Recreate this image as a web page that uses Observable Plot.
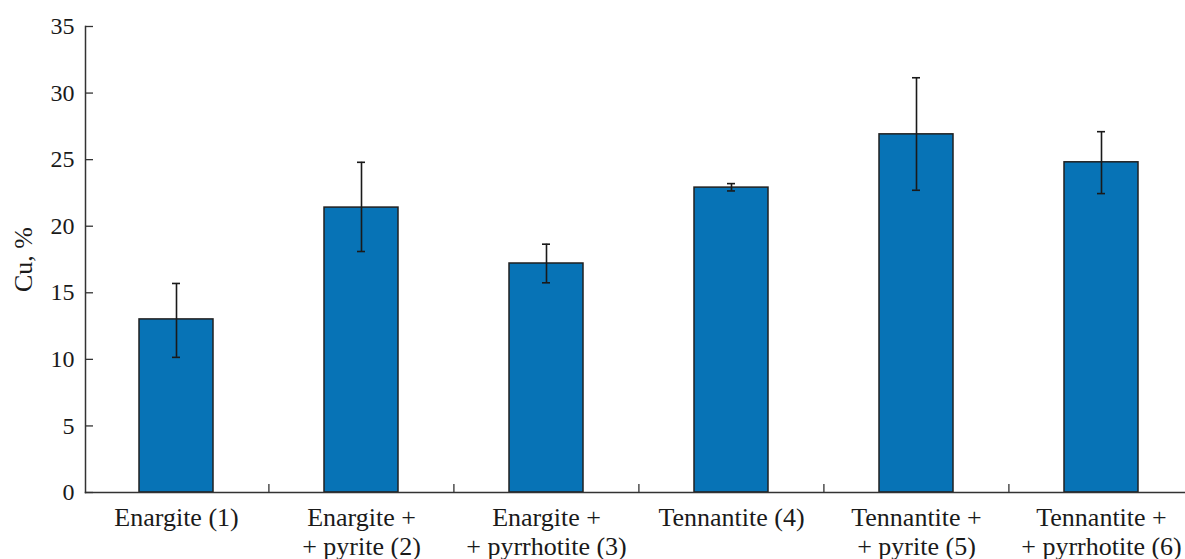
<!DOCTYPE html>
<html><head><meta charset="utf-8">
<script src="https://cdn.jsdelivr.net/npm/d3@7"></script>
<script src="https://cdn.jsdelivr.net/npm/@observablehq/plot@0.6"></script>
<style>
body{margin:0;background:#fff;overflow:hidden}
svg{display:block}
svg, svg text, svg tspan { font-family: "Liberation Serif", "Times New Roman", serif !important; }
</style>
</head><body><div id="chart"></div>
<script>
const categories = [
  "Enargite (1)",
  "Enargite +\n+ pyrite (2)",
  "Enargite +\n+ pyrrhotite (3)",
  "Tennantite (4)",
  "Tennantite +\n+ pyrite (5)",
  "Tennantite +\n+ pyrrhotite (6)"
];
const cu = [13.0, 21.4, 17.2, 22.9, 26.9, 24.8];
const errLow = [10.15, 18.1, 15.75, 22.65, 22.7, 22.45];
const errHigh = [15.7, 24.8, 18.65, 23.2, 31.15, 27.1];
const yTicks = [0, 5, 10, 15, 20, 25, 30, 35];
const yLabel = "Cu, %";

const data = categories.map((c, i) => ({cat: c, cu: cu[i], lo: errLow[i], hi: errHigh[i]}));
const x0 = 83.4, x1 = 1194.6;
const step = (x1 - x0) / categories.length;
const ink = "#1a1a1a";
const serif = "Liberation Serif";

const chart = Plot.plot({
  width: 1185, height: 559,
  marginLeft: 85, marginRight: 0, marginTop: 26, marginBottom: 67,
  style: {fontFamily: serif, background: "#fff", color: ink, overflow: "visible"},
  x: {domain: categories, range: [x0, x1], paddingInner: 0.6, paddingOuter: 0.3, axis: null, label: null},
  y: {domain: [0, 35], range: [492, 26], axis: null, label: null},
  marks: [
    Plot.barY(data, {x: "cat", y: "cu", fill: "#0773b6", stroke: "#202020", strokeWidth: 1.5}),
    Plot.ruleX(data, {x: "cat", y1: "lo", y2: "hi", stroke: ink, strokeWidth: 1.6}),
    Plot.tickY(data, {x: "cat", y: "lo", insetLeft: 33, insetRight: 33, stroke: ink, strokeWidth: 1.6}),
    Plot.tickY(data, {x: "cat", y: "hi", insetLeft: 33, insetRight: 33, stroke: ink, strokeWidth: 1.6}),
    Plot.frame({anchor: "left", stroke: "#333", strokeWidth: 1.5}),
    Plot.frame({anchor: "bottom", stroke: "#333", strokeWidth: 1.5}),
    Plot.ruleX(categories.slice(1), {x: d => d, y1: 0, y2: 0.6, dx: -step / 2, stroke: "#333", strokeWidth: 1.3}),
    Plot.axisY({ticks: yTicks, tickSize: 8, dx: 8, tickFormat: () => "", label: null, stroke: "#333", strokeWidth: 1.3}),
    Plot.axisY({ticks: yTicks, tickSize: 0, tickPadding: 11, fontSize: 24, fontFamily: serif, label: null}),
    Plot.axisX({tickSize: 0, tickPadding: 12.5, fontSize: 26, lineHeight: 1.13, fontFamily: serif, label: null}),
    Plot.text([yLabel], {frameAnchor: "left", text: d => d, rotate: -90, dx: -62, textAnchor: "middle", lineAnchor: "middle", fontSize: 26, fontFamily: serif, fill: ink})
  ]
});
document.getElementById("chart").append(chart);
</script>
</body></html>
